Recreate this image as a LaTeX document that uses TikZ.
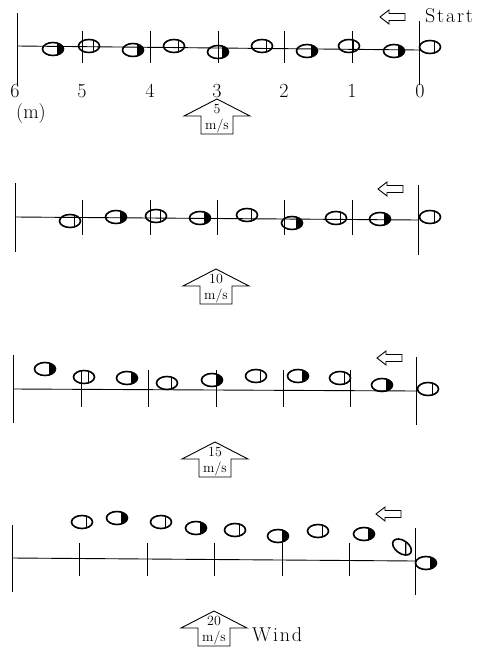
\documentclass[tikz,border=0pt]{standalone}
\usepackage{fontspec}
\usetikzlibrary{shapes.geometric}
\newcommand\spaced[1]{\def\gap{\kern1.8pt}#1}
\tikzset{
  axis/.style={line width=0.9pt},
  foot/.style={ellipse, draw, line width=1.6pt, minimum width=21pt,
    minimum height=13pt, inner sep=0pt},
  footD/.style={foot, path picture={\fill
    ([xshift=4pt]path picture bounding box.south) rectangle
    (path picture bounding box.north east);}},
  footO/.style={foot, path picture={\draw[line width=1.2pt]
    ([xshift=4.5pt]path picture bounding box.south) --
    ([xshift=4.5pt]path picture bounding box.north);}},
  num/.style={font=\fontsize{20}{20}\selectfont, anchor=base, inner sep=0pt},
  small/.style={font=\fontsize{14}{14}\selectfont, inner sep=0pt},
  walkdir/.pic={\draw[line width=0.9pt] (0,0) -- (9,-7) -- (9,-3.5) -- (25,-3.5)
    -- (25,3.5) -- (9,3.5) -- (9,7) -- cycle;},
  windarrow/.pic={\draw[line width=0.9pt] (0,0) -- (33,17) -- (16,17) -- (16,35)
    -- (-16,35) -- (-16,17) -- (-33,17) -- cycle;},
}
\begin{document}
\begin{tikzpicture}[x=1pt,y=-1pt]
\useasboundingbox (0,0) rectangle (479,648);

% ---------- 5 m/s ----------
\coordinate (a1L) at (17,46); \coordinate (a1R) at (419,50);
\draw[axis] (a1L) -- (a1R);
\draw[axis] (17,13) -- (17,85);
\draw[axis] (419,21) -- (419,85);
\foreach \x in {82,150,218,284,352} \draw[axis] (\x,31) -- (\x,63);
\foreach \x/\t in {15/6,82/5,150/4,217/3,284/2,352/1,420/0}
  \node[num] (m\t) at (\x,97) {\t};
\node[num, anchor=base west] (unit) at (16,118) {(m)};
\node[num, anchor=base west] (start) at (425,22)
  {\spaced{S\gap t\gap a\gap r\gap t}};
\pic at (380,17) {walkdir};
\pic at (217,99) {windarrow};
\node[small] (v5) at (217,109) {5};
\node[small] (u5) at (217,126) {m/s};
\foreach \x/\y/\s [count=\i] in {53/49/footD,89/46/footO,133/50/footD,174/46/footO,
  218/52/footD,262/46/footO,307/51/footD,349/46/footO,394/51/footD,430/47/footO}
  \node[\s] (p1s\i) at (\x,\y) {};

% ---------- 10 m/s ----------
\coordinate (a2L) at (15,217); \coordinate (a2R) at (418,220);
\draw[axis] (a2L) -- (a2R);
\draw[axis] (15,183) -- (15,252);
\draw[axis] (418,185) -- (418,255);
\foreach \x in {82,150,217,284,352} \draw[axis] (\x,200) -- (\x,235);
\pic at (378,189) {walkdir};
\pic at (216,269) {windarrow};
\node[small] (v10) at (216,279) {10};
\node[small] (u10) at (216,296) {m/s};
\foreach \x/\y/\s [count=\i] in {70/221/footO,116/217/footD,156/216/footO,200/218/footD,
  247/215/footO,292/223/footD,336/218/footO,380/219/footD,430/217/footO}
  \node[\s] (p2s\i) at (\x,\y) {};

% ---------- 15 m/s ----------
\coordinate (a3L) at (13,389); \coordinate (a3R) at (416,391);
\draw[axis] (a3L) -- (a3R);
\draw[axis] (13,355) -- (13,423);
\draw[axis] (416,357) -- (416,425);
\foreach \x in {81,148,216,283,350} \draw[axis] (\x,370) -- (\x,407);
\pic at (377,358) {walkdir};
\pic at (215,442) {windarrow};
\node[small] (v15) at (215,452) {15};
\node[small] (u15) at (215,469) {m/s};
\foreach \x/\y/\s [count=\i] in {45/369/footD,84/377/footO,127/378/footD,167/383/footO,
  212/380/footD,256/376/footO,298/376/footD,340/378/footO,382/385/footD,428/389/footO}
  \node[\s] (p3s\i) at (\x,\y) {};

% ---------- 20 m/s ----------
\coordinate (a4L) at (12,558); \coordinate (a4R) at (415,561);
\draw[axis] (a4L) -- (a4R);
\draw[axis] (12,525) -- (12,592);
\draw[axis] (415,528) -- (415,595);
\foreach \x in {79,147,214,282,349} \draw[axis] (\x,543) -- (\x,576);
\pic at (376,514) {walkdir};
\pic at (214,611) {windarrow};
\node[small] (v20) at (214,621) {20};
\node[small] (u20) at (214,638) {m/s};
\node[num, anchor=base west] (wind) at (252,641) {\spaced{W\gap i\gap n\gap d}};
\foreach \x/\y/\s [count=\i] in {82/522/footO,117/518/footD,161/522/footO,196/528/footD,
  235/530/footO,278/536/footD,318/531/footO,364/534/footD}
  \node[\s] (p4s\i) at (\x,\y) {};
\node[footO, rotate=-35] (p4s9) at (402,547) {};
\node[footD] (p4s10) at (426,563) {};
\end{tikzpicture}
\end{document}
